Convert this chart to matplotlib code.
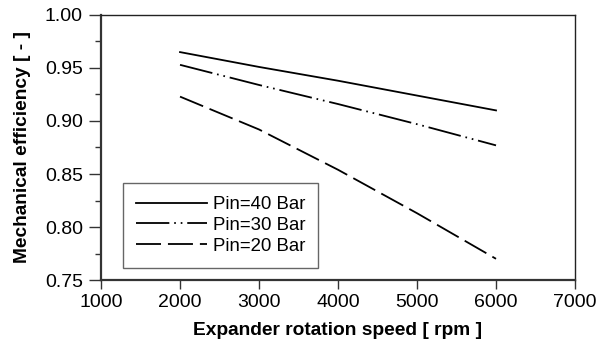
import matplotlib
matplotlib.use("Agg")
import matplotlib.pyplot as plt
from matplotlib.ticker import MultipleLocator

plt.rcParams['font.family'] = ['Liberation Sans', 'DejaVu Sans']
plt.rcParams['lines.scale_dashes'] = False

# data
speed = [2000, 3000, 4000, 5000, 6000]
eff_40 = [0.965, 0.951, 0.938, 0.924, 0.910]
eff_30 = [0.953, 0.934, 0.916, 0.897, 0.877]
eff_20 = [0.923, 0.892, 0.854, 0.813, 0.770]
labels = ["Pin=40 Bar", "Pin=30 Bar", "Pin=20 Bar"]

fig = plt.figure(figsize=(5.96, 3.48), dpi=100)
ax = fig.add_axes([0.1695, 0.1954, 0.7953, 0.7615])

lw = 1.3
ax.plot(speed, eff_40, color="black", linewidth=lw, linestyle="-", label=labels[0])
ax.plot(speed, eff_30, color="black", linewidth=lw,
        linestyle=(0, (24, 3.5, 1.2, 3.5, 1.2, 3.5)), label=labels[1])
ax.plot(speed, eff_20, color="black", linewidth=lw,
        linestyle=(0, (18, 5)), label=labels[2])

ax.set_xlim(1000, 7000)
ax.set_ylim(0.75, 1.00)
ax.xaxis.set_major_locator(MultipleLocator(1000))
ax.yaxis.set_major_locator(MultipleLocator(0.05))
ax.yaxis.set_minor_locator(MultipleLocator(0.025))
ax.yaxis.set_major_formatter(plt.FormatStrFormatter("%.2f"))

ax.tick_params(axis="both", which="both", direction="out", labelsize=14,
               colors="#333333", labelcolor="black", width=1.0)
ax.tick_params(axis="y", which="major", length=9, pad=4)
ax.tick_params(axis="y", which="minor", length=4.5)
ax.tick_params(axis="x", which="major", length=6.5, pad=3.5)
ax.tick_params(top=False, right=False)

for side in ["left", "bottom"]:
    ax.spines[side].set_linewidth(1.6)
    ax.spines[side].set_color("#333333")
for side in ["top", "right"]:
    ax.spines[side].set_linewidth(1.0)
    ax.spines[side].set_color("#222222")

ax.set_xlabel("Expander rotation speed [ rpm ]", fontsize=13.8, fontweight="bold")
ax.set_ylabel("Mechanical efficiency [ - ]", fontsize=13.8, fontweight="bold")
ax.xaxis.set_label_coords(0.5, -0.16)
ax.yaxis.set_label_coords(-0.148, 0.5)

leg = ax.legend(loc="lower left", bbox_to_anchor=(0.046, 0.045), borderaxespad=0,
                fontsize=13.4, handlelength=3.8, handletextpad=0.3,
                labelspacing=0.2, borderpad=0.72, fancybox=False, framealpha=1)
leg.get_frame().set_edgecolor("#666666")
leg.get_frame().set_linewidth(1.0)

plt.savefig("out.png", dpi=100)
